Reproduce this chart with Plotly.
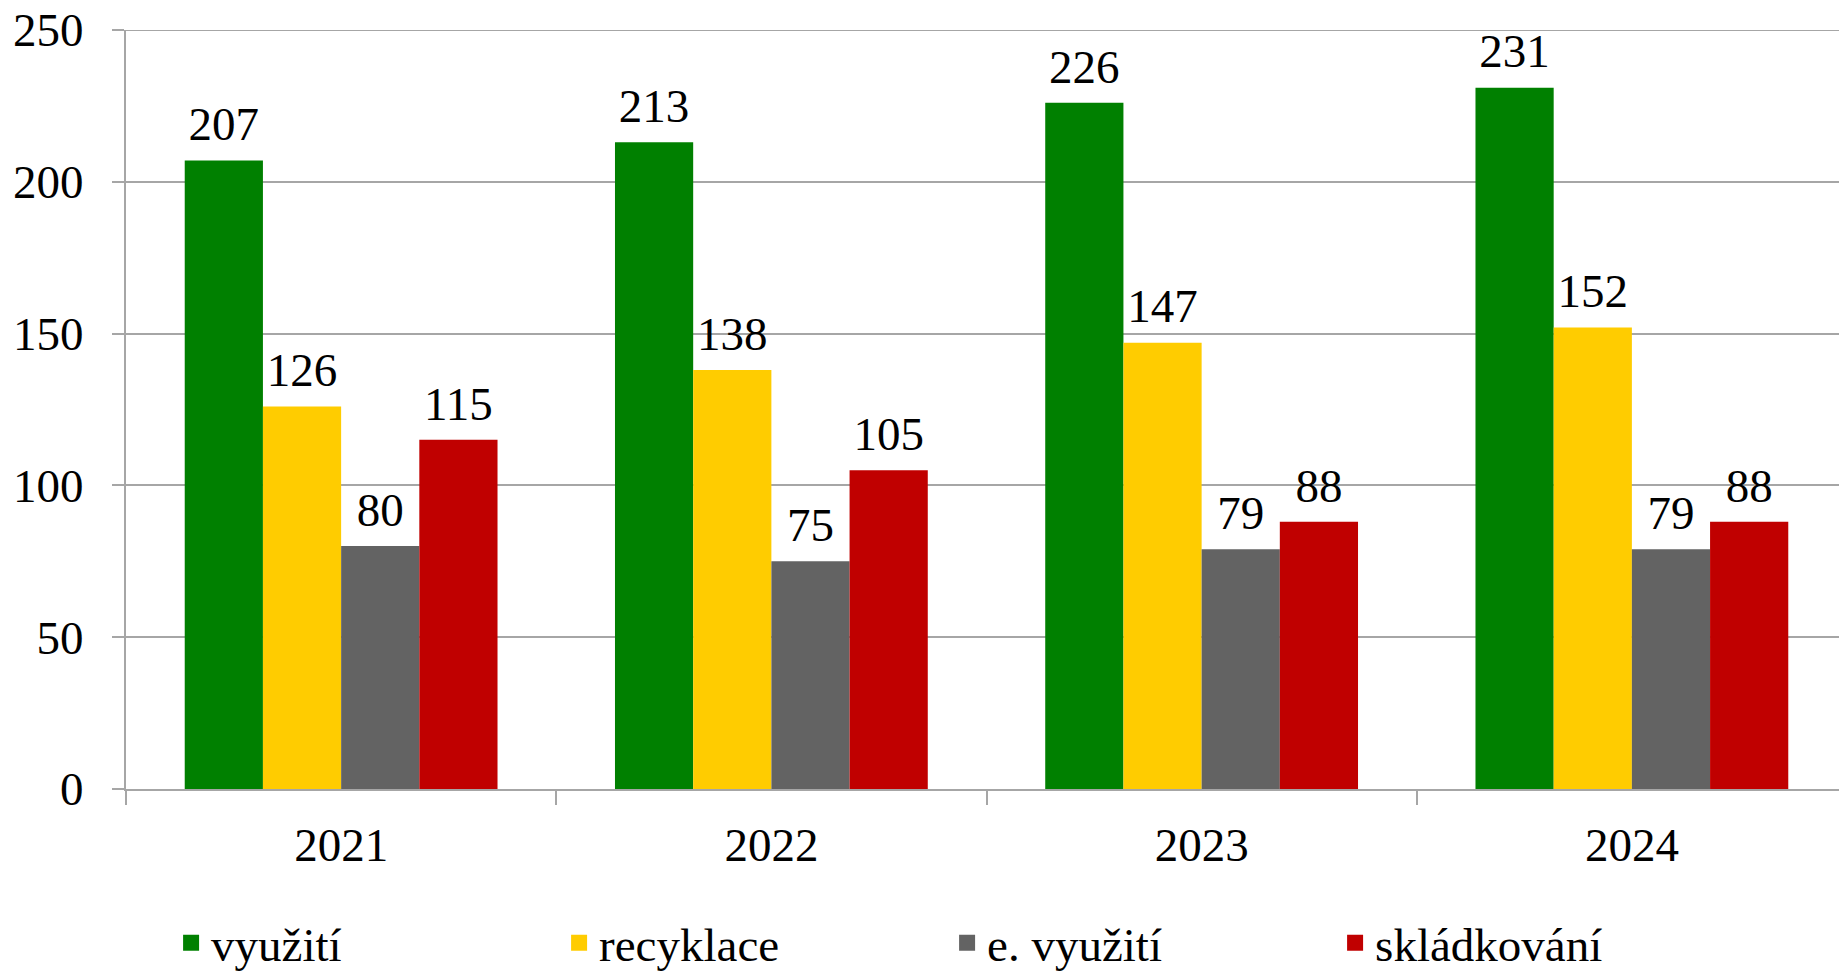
import plotly.graph_objects as go

years = ["2021", "2022", "2023", "2024"]
series_names = ["využití", "recyklace", "e. využití", "skládkování"]
vyuziti = [207, 213, 226, 231]
recyklace = [126, 138, 147, 152]
e_vyuziti = [80, 75, 79, 79]
skladkovani = [115, 105, 88, 88]
colors = ["#008000", "#FFCC00", "#636363", "#C00000"]
y_ticks = [0, 50, 100, 150, 200, 250]

FONT = "Liberation Serif, Times New Roman, serif"
FS = 47
GRID = "#A6A6A6"
GAP = 0.273

fig = go.Figure()
all_vals = [vyuziti, recyklace, e_vyuziti, skladkovani]
for i, (name, vals, col) in enumerate(zip(series_names, all_vals, colors)):
    fig.add_trace(go.Bar(
        x=years, y=vals, name=name, offsetgroup=str(i), legendgroup=name,
        showlegend=False,
        marker=dict(color=col, line=dict(width=0)),
    ))
for i, (name, vals) in enumerate(zip(series_names, all_vals)):
    fig.add_trace(go.Scatter(
        x=years, y=vals, name=name, offsetgroup=str(i), showlegend=False,
        legendgroup=name,
        mode="markers+text", text=[str(v) for v in vals], textposition="top center",
        marker=dict(size=12, opacity=0), hoverinfo="skip",
        textfont=dict(family=FONT, size=FS, color="black"),
        cliponaxis=False,
    ))
# legend entries (square swatches)
for i, (name, col) in enumerate(zip(series_names, colors)):
    fig.add_trace(go.Scatter(
        x=[None], y=[None], name=name, offsetgroup=str(i), legendgroup=name,
        mode="markers", marker=dict(symbol="square", size=16, color=col),
        showlegend=True,
    ))

# top gridline (plotly drops the gridline lying on the plot edge)
fig.add_shape(type="line", xref="paper", x0=0, x1=1, yref="y", y0=max(y_ticks), y1=max(y_ticks),
              line=dict(color=GRID, width=2), layer="below")

fig.update_layout(
    width=1839, height=964,
    margin=dict(l=118, r=0, t=22, b=183, autoexpand=False),
    paper_bgcolor="white", plot_bgcolor="white",
    barmode="group", bargap=GAP, bargroupgap=0,
    scattermode="group", scattergap=GAP,
    font=dict(family=FONT, size=FS, color="black"),
    showlegend=True,
    legend=dict(
        orientation="h", x=0.0262, xanchor="left", y=-0.203, yanchor="middle",
        font=dict(family=FONT, size=FS, color="black"),
        entrywidth=343, entrywidthmode="pixels", itemsizing="trace",
        bgcolor="rgba(0,0,0,0)", tracegroupgap=0,
    ),
)
fig.update_xaxes(
    type="category", tickson="boundaries", ticks="outside", ticklen=14, tickwidth=2,
    tickcolor=GRID, showline=True, linecolor=GRID, linewidth=2,
    showgrid=False, ticklabelstandoff=14,
    tickfont=dict(family=FONT, size=FS, color="black"),
)
fig.update_yaxes(
    range=[0, 250], tickvals=y_ticks, ticks="outside", ticklen=12, tickwidth=2,
    tickcolor=GRID, showline=True, linecolor=GRID, linewidth=2,
    showgrid=True, gridcolor=GRID, gridwidth=2, zeroline=False,
    ticklabelstandoff=19, ticklabeloverflow="allow",
    tickfont=dict(family=FONT, size=FS, color="black"),
)

fig.write_html("out.html")
